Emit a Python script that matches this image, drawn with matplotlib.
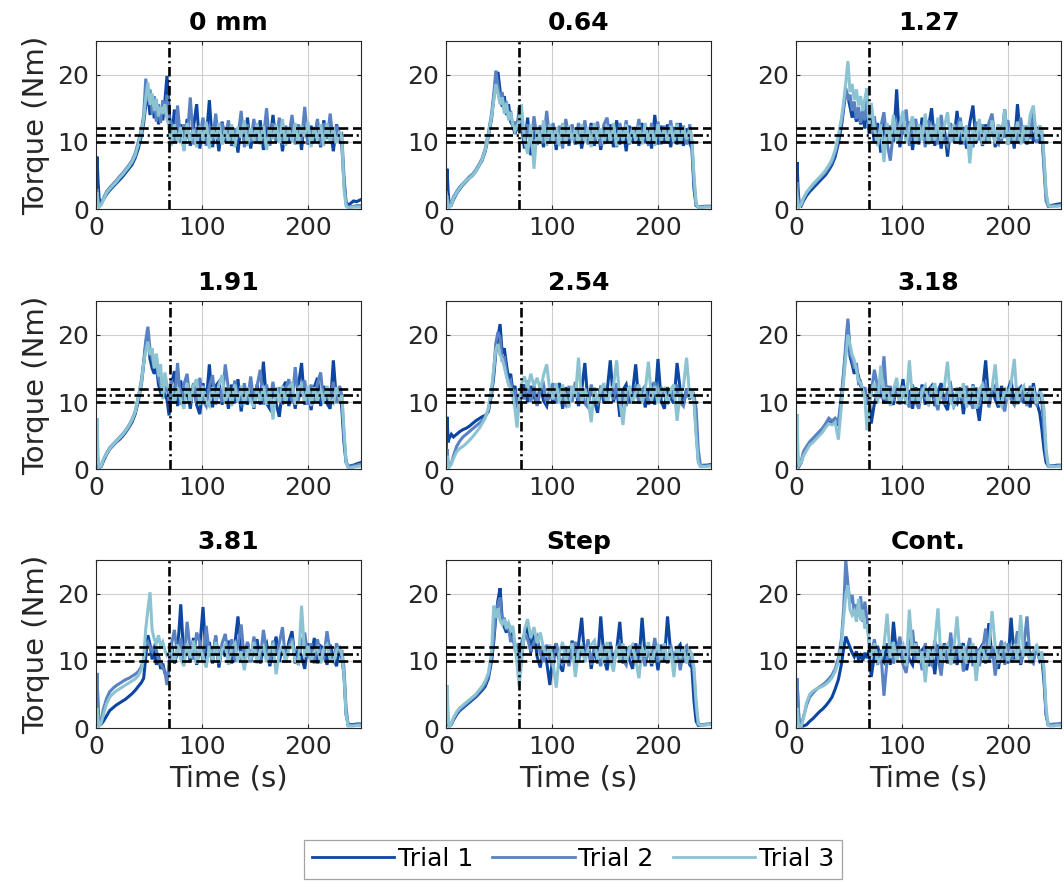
import numpy as np
import matplotlib
matplotlib.use("Agg")
import matplotlib.pyplot as plt
from matplotlib.lines import Line2D

# Sample times (s), shared by every trial
TIME = [
    0, 1, 2, 3, 5, 7,
    10, 13, 16, 19, 22, 25, 28, 31, 34, 37, 40, 43,
    45, 47, 49, 51, 53, 55, 57, 59, 61, 63, 65, 67, 69,
    71, 74, 77, 80, 83, 86, 89, 92, 95,
    98, 101, 104, 107, 110, 113, 116, 119, 122,
    125, 128, 131, 134, 137, 140, 143, 146, 149,
    152, 155, 158, 161, 164, 167, 170, 173, 176,
    179, 182, 185, 188, 191, 194, 197, 200, 203,
    206, 209, 212, 215, 218, 221, 224, 227, 230,
    232, 234, 236, 238, 240, 243, 246, 250,
]

TITLES = ["0 mm", "0.64", "1.27", "1.91", "2.54", "3.18", "3.81", "Step", "Cont."]
ONSET = [68.5, 69.0, 69.0, 69.4, 71.0, 69.0, 68.5, 69.0, 68.7]
BAND_HIGH = 12
BAND_MID = 11
BAND_LOW = 10
TRIAL_NAMES = ["Trial 1", "Trial 2", "Trial 3"]
TRIAL_COLORS = ["#0c46a0", "#5a82c3", "#8cc3d2"]

# ---- 0 mm ----
mm000_t1 = [
    1.5, 7.8, 4.0, 1.5, 0.9, 1.4,
    2.2, 2.8, 3.3, 3.8, 4.3, 4.8, 5.4, 6.0, 6.6, 7.6, 9.0, 11.0,
    12.8, 15.5, 17.0, 14.0, 16.5, 13.5, 15.8, 12.6, 14.8, 13.2, 16.0, 19.8, 15.0,
    9.6, 14.8, 10.2, 12.6, 8.8, 13.4, 9.4, 12.2, 15.6,
    9.0, 12.8, 10.4, 16.2, 9.2, 12.4, 8.6, 13.0, 10.0,
    12.6, 9.4, 11.8, 8.4, 12.8, 10.2, 13.6, 9.0, 12.2,
    10.6, 13.2, 8.8, 12.4, 9.6, 14.0, 10.0, 12.6, 8.6,
    12.0, 9.8, 13.4, 10.4, 12.2, 8.8, 13.8, 9.6, 12.4,
    10.0, 12.8, 9.2, 13.2, 10.6, 12.0, 8.6, 12.6, 10.4,
    9.5, 4.0, 1.0, 0.6, 0.8, 1.2, 1.1, 1.4,
]
mm000_t2 = [
    0.5, 3.0, 1.2, 0.6, 0.8, 1.6,
    2.6, 3.2, 3.7, 4.2, 4.8, 5.3, 5.9, 6.5, 7.2, 8.3, 10.0, 12.0,
    14.0, 19.4, 16.0, 17.8, 14.2, 16.8, 13.0, 15.6, 12.8, 16.2, 14.0, 17.0, 13.6,
    12.8, 10.0, 15.4, 9.8, 12.6, 10.4, 16.6, 9.6, 12.2,
    10.8, 13.6, 9.4, 12.4, 10.2, 14.2, 9.8, 12.8, 10.6,
    13.2, 9.6, 12.0, 10.8, 14.6, 9.2, 12.6, 10.0, 13.4,
    9.8, 12.2, 10.6, 15.0, 9.4, 12.8, 10.2, 13.6, 9.6,
    12.4, 10.8, 14.0, 9.6, 12.6, 10.2, 15.2, 9.8, 12.0,
    10.6, 13.4, 9.4, 12.8, 10.4, 14.2, 9.8, 12.4, 10.6,
    11.0, 5.0, 0.8, 0.3, 0.3, 0.4, 0.5, 0.5,
]
mm000_t3 = [
    2.0, 2.5, 0.8, 0.3, 0.6, 1.4,
    2.4, 3.0, 3.5, 4.0, 4.6, 5.1, 5.7, 6.3, 7.0, 8.0, 9.6, 11.5,
    13.5, 16.5, 18.8, 15.5, 17.2, 14.6, 16.4, 13.8, 15.2, 14.2, 15.6, 13.4, 12.2,
    9.4, 12.6, 10.0, 12.2, 8.6, 12.8, 9.8, 11.8, 9.2,
    12.4, 10.2, 13.0, 9.0, 12.2, 10.4, 12.8, 9.6, 11.8,
    10.0, 12.6, 9.2, 12.2, 10.6, 13.2, 9.4, 12.0, 10.2,
    12.8, 9.6, 12.4, 8.8, 12.0, 10.4, 12.6, 9.8, 13.4,
    9.4, 12.2, 10.0, 12.8, 9.6, 12.4, 10.8, 13.0, 9.2,
    12.2, 10.2, 12.6, 9.4, 12.8, 10.0, 12.0, 9.8, 11.6,
    10.5, 3.0, 0.4, 0.2, 0.2, 0.3, 0.3, 0.3,
]

# ---- 0.64 ----
mm064_t1 = [
    1.0, 6.0, 2.5, 0.8, 0.6, 1.4,
    2.3, 3.0, 3.6, 4.1, 4.6, 5.0, 5.6, 6.4, 7.2, 8.6, 10.8, 13.5,
    16.5, 19.0, 20.4, 17.6, 15.2, 16.8, 14.0, 15.6, 13.0, 12.4, 11.2, 12.0, 14.2,
    12.8, 9.0, 13.6, 8.0, 11.8, 9.6, 12.4, 9.2, 12.0,
    9.8, 12.6, 8.8, 12.2, 10.0, 13.0, 9.4, 12.4, 9.6,
    12.2, 9.0, 12.0, 10.2, 12.8, 9.4, 12.2, 8.8, 12.4,
    9.8, 12.6, 9.2, 13.2, 9.6, 12.0, 8.6, 12.4, 10.0,
    12.2, 9.4, 12.8, 9.8, 12.0, 9.0, 14.0, 9.6, 12.4,
    10.0, 12.6, 9.2, 12.2, 9.6, 12.8, 9.4, 12.0, 9.8,
    9.0, 3.0, 0.5, 0.3, 0.3, 0.4, 0.4, 0.4,
]
mm064_t2 = [
    0.4, 2.0, 1.0, 0.5, 0.8, 1.8,
    2.6, 3.3, 3.8, 4.3, 4.8, 5.2, 5.8, 6.6, 7.5, 9.0, 11.4, 14.2,
    17.0, 20.6, 18.4, 16.2, 17.4, 14.8, 16.0, 13.6, 14.6, 12.2, 13.0, 11.8, 15.2,
    13.4, 10.0, 12.6, 9.2, 13.8, 10.2, 12.4, 9.8, 14.6,
    10.0, 12.8, 9.6, 12.4, 9.0, 13.4, 10.4, 12.6, 9.8,
    12.8, 10.2, 13.2, 9.6, 12.4, 10.0, 13.0, 9.4, 12.6,
    13.6, 9.8, 12.4, 9.2, 12.8, 10.2, 13.2, 9.6, 12.2,
    10.4, 13.4, 9.8, 12.6, 9.4, 12.8, 10.0, 13.0, 9.6,
    12.4, 10.2, 13.2, 9.8, 12.8, 10.0, 12.4, 9.6, 12.6,
    10.0, 4.0, 0.6, 0.3, 0.3, 0.3, 0.4, 0.4,
]
mm064_t3 = [
    2.5, 1.5, 0.5, 0.2, 0.6, 1.6,
    2.4, 3.1, 3.7, 4.2, 4.6, 5.0, 5.6, 6.4, 7.3, 8.8, 11.0, 13.8,
    16.0, 18.6, 17.2, 15.6, 16.6, 14.2, 15.8, 13.2, 14.4, 12.6, 11.6, 12.4, 13.0,
    15.6, 10.4, 8.2, 12.6, 6.0, 12.2, 9.8, 13.2, 9.4,
    12.6, 10.0, 12.2, 9.4, 12.8, 9.8, 12.4, 10.2, 12.0,
    9.6, 12.6, 10.0, 12.2, 9.2, 12.8, 10.4, 12.0, 9.6,
    12.4, 10.0, 12.8, 9.4, 12.2, 10.2, 12.6, 9.8, 12.0,
    10.2, 12.4, 9.6, 12.8, 10.0, 12.2, 9.4, 12.6, 10.2,
    12.0, 9.8, 12.4, 10.0, 12.6, 9.6, 12.2, 10.4, 11.8,
    10.2, 5.0, 0.8, 0.2, 0.2, 0.3, 0.3, 0.3,
]

# ---- 1.27 ----
mm127_t1 = [
    2.0, 7.0, 3.0, 0.8, 0.5, 1.2,
    2.0, 2.6, 3.1, 3.6, 4.1, 4.6, 5.1, 5.8, 6.6, 7.8, 9.8, 12.4,
    15.0, 17.6, 16.8, 15.2, 13.6, 14.8, 13.0, 14.4, 12.6, 13.8, 12.0, 16.6, 11.2,
    14.0, 9.8, 12.8, 8.4, 13.2, 9.6, 12.4, 10.0, 17.8,
    9.2, 12.6, 10.4, 13.0, 8.8, 12.4, 9.6, 13.6, 10.0,
    12.2, 15.0, 9.4, 12.6, 9.0, 12.0, 7.8, 12.4, 10.2,
    14.6, 9.6, 12.2, 9.0, 12.8, 15.4, 9.8, 12.0, 9.4,
    12.6, 10.0, 13.4, 9.2, 12.4, 10.2, 14.8, 9.6, 12.0,
    9.0, 15.6, 10.2, 12.4, 9.6, 12.8, 10.0, 12.2, 9.8,
    11.0, 7.0, 2.0, 0.5, 0.5, 0.6, 0.7, 0.8,
]
mm127_t2 = [
    0.5, 4.0, 1.5, 0.6, 0.7, 1.5,
    2.4, 3.0, 3.5, 4.0, 4.5, 5.0, 5.5, 6.2, 7.0, 8.4, 10.4, 13.0,
    15.4, 18.0, 16.4, 17.0, 14.6, 16.0, 13.4, 15.2, 12.8, 14.6, 13.2, 15.8, 12.4,
    11.2, 13.8, 9.6, 12.2, 14.4, 9.8, 7.2, 11.8, 13.0,
    9.8, 12.6, 14.8, 9.4, 12.0, 13.4, 10.0, 12.4, 9.2,
    13.2, 10.0, 12.6, 9.6, 14.0, 10.2, 9.4, 12.8, 10.0,
    12.2, 13.6, 9.6, 12.4, 10.4, 9.2, 13.0, 10.2, 12.6,
    9.8, 12.8, 14.2, 10.0, 9.6, 12.4, 10.6, 13.2, 9.8,
    12.2, 10.0, 13.6, 9.8, 12.4, 10.4, 14.4, 9.8, 12.4,
    11.4, 6.0, 1.2, 0.4, 0.4, 0.5, 0.5, 0.6,
]
mm127_t3 = [
    3.0, 2.0, 0.6, 0.3, 0.7, 1.6,
    2.5, 3.1, 3.7, 4.2, 4.7, 5.2, 5.8, 6.5, 7.4, 8.8, 11.0, 13.6,
    16.0, 18.8, 22.0, 17.4, 18.6, 16.2, 17.8, 15.4, 16.8, 14.6, 16.4, 18.0, 12.6,
    15.8, 11.8, 9.4, 12.6, 7.0, 12.8, 9.8, 14.0, 10.2,
    12.4, 14.6, 9.8, 12.2, 13.8, 9.6, 12.6, 10.2, 14.2,
    9.6, 12.4, 10.2, 13.6, 9.8, 12.2, 14.4, 10.0, 12.6,
    9.8, 13.0, 10.2, 12.4, 6.8, 12.0, 10.2, 13.4, 9.6,
    12.2, 10.0, 13.2, 9.8, 12.6, 10.4, 14.8, 9.6, 12.2,
    10.2, 13.0, 9.6, 12.4, 10.0, 14.0, 15.4, 10.4, 12.2,
    12.0, 8.0, 2.5, 0.6, 0.4, 0.4, 0.4, 0.5,
]

# ---- 1.91 ----
mm191_t1 = [
    0.5, 2.5, 1.0, 0.3, 0.4, 1.2,
    2.2, 3.0, 3.5, 4.0, 4.4, 4.9, 5.5, 6.2, 7.0, 8.2, 10.2, 12.8,
    15.6, 18.6, 19.8, 16.4, 15.0, 14.2, 15.4, 12.6, 11.4, 12.0, 11.0, 10.4, 8.0,
    12.4, 14.6, 9.4, 13.2, 9.8, 12.0, 9.0, 12.6, 9.6,
    8.2, 12.8, 9.8, 15.6, 9.2, 12.4, 13.0, 9.6, 12.2,
    9.0, 12.6, 9.8, 13.4, 8.6, 12.0, 9.6, 12.4, 9.0,
    12.6, 9.6, 16.0, 9.8, 9.0, 12.4, 9.8, 7.8, 12.0,
    13.0, 9.4, 12.2, 9.0, 12.4, 15.8, 9.6, 12.0, 8.8,
    12.2, 13.6, 9.4, 12.4, 9.8, 9.0, 16.2, 10.0, 12.2,
    9.0, 4.0, 1.0, 0.4, 0.5, 0.6, 0.8, 1.0,
]
mm191_t2 = [
    0.3, 2.0, 0.8, 0.2, 0.5, 1.4,
    2.4, 3.2, 3.7, 4.2, 4.7, 5.2, 5.8, 6.5, 7.4, 8.6, 10.8, 13.4,
    16.0, 19.2, 21.2, 17.8, 16.4, 15.2, 16.8, 13.6, 12.4, 13.0, 11.8, 12.2, 10.2,
    13.4, 10.0, 15.8, 9.6, 12.6, 14.2, 9.8, 12.8, 9.8,
    13.6, 10.2, 9.4, 12.4, 14.0, 9.6, 12.2, 10.0, 15.6,
    12.0, 9.6, 13.2, 10.2, 9.6, 12.8, 10.0, 13.8, 9.8,
    12.4, 14.8, 9.6, 12.6, 10.0, 13.0, 9.8, 12.2, 9.6,
    12.0, 13.4, 9.8, 15.2, 10.2, 12.4, 13.2, 9.6, 12.6,
    10.0, 12.8, 14.4, 9.8, 12.2, 10.0, 13.0, 9.8, 12.4,
    11.0, 5.0, 1.2, 0.3, 0.4, 0.5, 0.6, 0.8,
]
mm191_t3 = [
    1.0, 7.6, 2.0, 0.3, 0.5, 1.5,
    2.3, 3.1, 3.6, 4.1, 4.6, 5.1, 5.7, 6.4, 7.3, 8.5, 10.6, 13.0,
    15.8, 17.6, 19.0, 17.0, 18.0, 15.0, 17.2, 13.8, 15.6, 10.4, 14.4, 12.6, 11.8,
    12.6, 9.8, 12.2, 10.4, 9.0, 12.8, 9.8, 12.4, 13.4,
    9.6, 12.4, 10.0, 9.4, 12.2, 10.2, 12.6, 14.0, 9.8,
    12.0, 9.4, 12.6, 10.0, 12.4, 9.6, 12.2, 10.2, 9.2,
    12.0, 10.0, 12.4, 9.6, 12.0, 7.4, 12.2, 10.0, 12.4,
    9.8, 12.2, 12.8, 9.6, 12.0, 12.6, 9.8, 12.4, 9.4,
    12.2, 10.0, 12.0, 9.8, 12.4, 10.2, 9.8, 12.2, 10.4,
    11.0, 6.0, 1.0, 0.2, 0.2, 0.3, 0.4, 0.5,
]

# ---- 2.54 ----
mm254_t1 = [
    1.5, 7.8, 4.0, 4.6, 5.2, 4.8,
    5.2, 5.6, 5.9, 6.1, 6.4, 6.8, 7.2, 7.5, 7.8, 8.0, 8.6, 11.2,
    13.8, 17.4, 19.6, 21.6, 17.2, 18.0, 15.6, 13.4, 14.2, 11.6, 12.4, 10.0, 8.6,
    11.4, 12.6, 10.0, 12.4, 10.8, 9.6, 12.6, 10.2, 9.4,
    12.0, 9.8, 11.8, 12.8, 9.0, 12.2, 10.0, 11.8, 12.4,
    9.4, 11.8, 15.8, 9.8, 12.0, 10.2, 8.4, 12.4, 9.8,
    11.6, 16.2, 10.0, 12.2, 7.8, 11.8, 12.6, 9.8, 11.4,
    15.6, 9.8, 12.0, 9.2, 11.6, 12.4, 9.6, 16.4, 10.2,
    9.0, 12.2, 10.6, 9.8, 15.8, 11.8, 9.6, 12.0, 10.4,
    11.6, 10.8, 6.0, 1.5, 0.5, 0.6, 0.6, 0.7,
]
mm254_t2 = [
    0.5, 3.0, 1.0, 0.4, 0.8, 2.0,
    3.4, 4.2, 4.8, 5.2, 5.6, 6.0, 6.4, 6.8, 7.2, 7.8, 8.8, 11.6,
    14.6, 18.8, 20.4, 19.6, 16.0, 16.8, 14.4, 12.8, 13.2, 11.2, 11.8, 9.4, 9.8,
    12.0, 10.4, 13.2, 10.0, 12.4, 9.4, 11.8, 12.6, 9.8,
    11.6, 12.8, 9.8, 12.0, 10.4, 9.6, 12.4, 10.0, 13.0,
    10.2, 12.2, 9.8, 9.2, 12.6, 10.4, 9.8, 12.4, 10.8,
    9.8, 12.0, 10.4, 12.8, 9.6, 11.6, 9.4, 12.2, 10.2,
    12.6, 9.8, 11.8, 12.4, 9.6, 10.8, 13.0, 10.0, 12.2,
    11.0, 9.8, 12.0, 10.4, 12.6, 10.0, 9.4, 11.8, 10.6,
    11.8, 11.0, 9.0, 3.0, 0.6, 0.5, 0.5, 0.6,
]
mm254_t3 = [
    0.8, 2.0, 0.6, 0.3, 0.8, 1.6,
    2.6, 3.1, 3.4, 3.8, 4.3, 4.8, 5.4, 6.0, 6.8, 7.6, 9.2, 12.0,
    15.0, 17.8, 18.6, 17.0, 16.4, 15.2, 13.8, 12.6, 12.0, 10.8, 9.0, 6.2, 10.4,
    12.6, 13.8, 12.0, 14.2, 12.4, 13.6, 11.8, 14.0, 15.6,
    11.6, 10.4, 12.8, 9.8, 12.6, 10.4, 9.2, 12.4, 10.6,
    16.6, 10.0, 12.0, 10.6, 7.0, 12.2, 9.8, 11.8, 12.8,
    9.8, 11.6, 12.4, 16.2, 10.2, 6.6, 11.8, 12.2, 9.8,
    11.4, 12.6, 9.8, 11.8, 16.0, 10.2, 12.4, 9.8, 11.6,
    12.0, 9.6, 11.8, 12.6, 7.2, 11.4, 12.2, 16.6, 10.6,
    11.8, 10.0, 5.0, 1.0, 0.4, 0.4, 0.4, 0.5,
]

# ---- 3.18 ----
mm318_t1 = [
    0.5, 3.0, 1.2, 0.5, 1.0, 2.2,
    3.0, 3.8, 4.3, 4.8, 5.3, 5.8, 6.4, 7.0, 6.8, 7.2, 6.6, 10.6,
    14.0, 17.6, 21.8, 16.8, 15.6, 14.2, 15.0, 13.8, 12.4, 12.0, 11.4, 9.6, 10.8,
    6.8, 9.8, 11.4, 12.4, 9.8, 12.4, 10.6, 9.6, 12.8,
    10.2, 13.4, 9.6, 11.8, 9.0, 12.2, 10.0, 12.6, 9.6,
    11.8, 12.4, 9.4, 11.6, 12.8, 9.8, 8.8, 12.0, 10.4,
    9.8, 12.2, 8.2, 11.8, 9.6, 12.6, 10.2, 7.2, 11.6,
    16.2, 9.8, 12.0, 10.4, 9.2, 12.4, 9.8, 11.8, 13.2,
    9.6, 11.6, 12.2, 9.8, 11.4, 9.2, 12.8, 10.0, 8.4,
    6.0, 3.0, 1.0, 0.5, 0.5, 0.5, 0.6, 0.6,
]
mm318_t2 = [
    0.4, 2.5, 1.0, 0.4, 1.2, 2.6,
    3.4, 4.1, 4.6, 5.1, 5.6, 6.1, 6.8, 7.6, 7.2, 7.6, 7.0, 11.2,
    14.6, 18.6, 22.4, 17.2, 16.4, 15.0, 15.8, 12.8, 13.0, 11.6, 12.2, 10.4, 9.8,
    11.4, 14.8, 12.2, 10.6, 16.8, 9.8, 12.4, 10.2, 13.0,
    9.6, 12.0, 10.4, 9.2, 12.6, 10.0, 9.0, 12.2, 10.6,
    9.8, 12.4, 10.2, 8.8, 12.0, 9.6, 11.8, 12.6, 9.4,
    10.2, 12.0, 9.8, 12.4, 10.4, 9.0, 12.2, 9.6, 11.8,
    12.6, 9.2, 11.6, 12.4, 9.8, 10.2, 8.6, 12.0, 10.4,
    9.6, 12.2, 10.0, 11.8, 9.4, 12.4, 10.2, 9.6, 11.8,
    10.0, 6.0, 2.0, 0.5, 0.4, 0.4, 0.5, 0.5,
]
mm318_t3 = [
    1.5, 8.2, 2.0, 0.6, 1.0, 2.0,
    2.8, 3.6, 4.0, 4.5, 5.0, 5.5, 6.2, 6.8, 6.6, 7.0, 4.4, 9.8,
    13.2, 16.8, 20.0, 18.6, 17.0, 16.2, 14.8, 13.2, 12.8, 11.8, 10.6, 5.8, 9.2,
    11.6, 12.8, 9.8, 15.4, 10.4, 12.2, 9.4, 11.8, 13.6,
    10.0, 12.4, 9.6, 16.2, 10.2, 12.0, 9.8, 11.6, 12.4,
    9.4, 11.8, 12.8, 9.6, 11.4, 12.2, 16.0, 10.0, 9.4,
    12.2, 10.6, 12.8, 9.2, 11.4, 12.4, 9.0, 11.8, 12.6,
    9.8, 11.6, 12.0, 15.6, 10.2, 9.4, 12.2, 10.4, 12.8,
    16.4, 9.6, 11.8, 12.4, 10.0, 11.6, 12.0, 9.8, 11.4,
    11.2, 9.0, 3.0, 0.6, 0.4, 0.4, 0.4, 0.5,
]

# ---- 3.81 ----
mm381_t1 = [
    1.0, 7.4, 3.0, 0.5, 0.6, 1.0,
    1.8, 2.6, 3.0, 3.4, 3.7, 4.0, 4.3, 4.7, 5.1, 5.6, 6.2, 6.8,
    7.4, 10.6, 13.8, 12.4, 10.2, 11.6, 9.4, 10.8, 8.8, 9.6, 8.2, 7.4, 8.8,
    12.8, 9.6, 11.4, 18.4, 10.2, 12.6, 9.8, 13.4, 9.4,
    12.0, 18.0, 10.2, 12.8, 9.6, 13.6, 9.0, 12.2, 10.6,
    13.0, 9.6, 12.4, 16.6, 10.4, 9.4, 12.8, 9.8, 12.0,
    13.2, 9.6, 11.8, 12.6, 9.2, 11.4, 13.6, 9.8, 12.2,
    10.0, 12.8, 14.4, 9.6, 12.0, 10.6, 8.8, 12.6, 10.2,
    13.4, 9.6, 12.2, 11.8, 9.4, 12.4, 10.4, 9.2, 12.0,
    10.4, 8.0, 2.0, 0.5, 0.5, 0.5, 0.6, 0.6,
]
mm381_t2 = [
    0.5, 8.2, 2.5, 0.4, 1.2, 2.8,
    4.4, 5.4, 5.9, 6.3, 6.6, 6.9, 7.2, 7.4, 7.7, 8.0, 8.4, 9.2,
    10.2, 12.4, 12.8, 12.0, 11.4, 12.2, 11.6, 10.2, 9.6, 9.0, 8.4, 6.4, 9.8,
    12.2, 14.6, 10.8, 13.4, 9.8, 15.8, 11.4, 10.2, 14.2,
    12.8, 9.8, 15.2, 11.0, 10.4, 13.8, 9.6, 12.6, 14.0,
    10.6, 13.2, 9.8, 12.4, 15.4, 10.2, 12.8, 9.8, 13.6,
    11.2, 10.0, 14.6, 11.4, 9.6, 13.0, 10.8, 12.6, 15.0,
    9.8, 12.2, 13.4, 10.6, 9.4, 12.8, 14.2, 10.4, 12.6,
    9.6, 13.2, 11.0, 10.4, 14.4, 11.2, 9.8, 12.6, 10.8,
    11.6, 9.0, 3.0, 0.4, 0.4, 0.4, 0.5, 0.5,
]
mm381_t3 = [
    0.8, 3.0, 1.0, 0.3, 0.8, 2.0,
    3.6, 4.6, 5.1, 5.5, 5.8, 6.1, 6.4, 6.7, 7.0, 7.3, 7.8, 8.8,
    10.4, 14.8, 17.6, 20.2, 14.6, 13.2, 12.6, 13.8, 12.2, 12.8, 11.6, 10.8, 11.2,
    11.8, 9.8, 12.4, 10.2, 9.2, 12.6, 10.4, 13.0, 9.6,
    12.0, 10.6, 9.0, 12.2, 10.0, 12.8, 9.8, 11.6, 12.4,
    9.4, 11.8, 12.6, 9.8, 11.4, 8.6, 12.0, 10.2, 12.8,
    9.6, 11.6, 12.2, 9.8, 11.8, 12.4, 8.0, 11.4, 12.0,
    9.8, 11.8, 12.6, 10.0, 9.6, 18.2, 10.6, 12.2, 9.8,
    11.4, 12.0, 9.6, 11.8, 12.4, 10.2, 9.8, 11.6, 12.0,
    11.0, 8.0, 2.0, 0.3, 0.3, 0.3, 0.4, 0.4,
]

# ---- Step ----
step_t1 = [
    1.0, 3.0, 0.8, 0.3, 0.5, 1.2,
    2.0, 2.6, 3.0, 3.4, 3.8, 4.2, 4.6, 5.1, 5.6, 6.2, 7.4, 10.0,
    12.8, 16.6, 19.0, 20.8, 16.2, 15.0, 14.2, 15.6, 13.4, 14.0, 12.4, 11.6, 8.4,
    10.4, 13.8, 15.2, 11.2, 14.4, 10.6, 9.0, 12.2, 9.8,
    6.4, 11.4, 12.6, 9.4, 8.4, 12.0, 10.2, 13.0, 9.6,
    12.4, 16.4, 10.0, 12.8, 8.8, 11.8, 9.6, 16.6, 10.4,
    8.6, 12.2, 9.8, 11.6, 15.8, 9.6, 12.0, 10.2, 8.8,
    12.6, 9.8, 16.4, 10.4, 12.2, 9.2, 11.8, 8.6, 12.4,
    10.0, 16.6, 11.2, 9.6, 11.8, 12.4, 9.8, 11.6, 9.4,
    9.0, 4.0, 1.0, 0.4, 0.4, 0.5, 0.5, 0.6,
]
step_t2 = [
    0.5, 2.0, 0.6, 0.3, 0.6, 1.4,
    2.2, 2.8, 3.2, 3.6, 4.0, 4.4, 4.8, 5.4, 5.9, 6.6, 7.8, 10.6,
    13.4, 17.2, 18.4, 19.4, 15.6, 16.4, 14.6, 15.2, 12.8, 13.6, 11.8, 12.2, 9.6,
    12.6, 14.0, 13.2, 11.4, 12.8, 13.6, 11.0, 9.8, 12.4,
    10.2, 9.0, 12.6, 10.4, 9.6, 12.2, 9.2, 11.8, 12.8,
    9.8, 12.0, 10.4, 13.2, 9.4, 12.2, 10.6, 9.2, 12.4,
    10.0, 12.8, 9.6, 11.8, 12.6, 10.2, 9.4, 12.2, 10.4,
    9.8, 12.4, 10.6, 9.2, 12.0, 10.4, 13.4, 9.8, 12.2,
    10.8, 9.6, 12.4, 10.0, 12.0, 8.6, 11.6, 12.2, 10.0,
    10.6, 8.0, 3.0, 0.6, 0.5, 0.5, 0.6, 0.6,
]
step_t3 = [
    0.8, 6.4, 2.0, 0.3, 0.6, 1.5,
    2.4, 3.0, 3.4, 3.8, 4.2, 4.6, 5.0, 5.6, 6.2, 7.0, 8.2, 11.4,
    18.2, 16.4, 17.8, 16.0, 15.4, 16.2, 14.8, 15.6, 14.6, 15.2, 12.6, 9.6, 6.2,
    9.4, 14.6, 16.2, 13.4, 15.0, 12.6, 14.2, 11.8, 10.6,
    12.4, 9.6, 6.0, 11.2, 12.8, 9.6, 11.8, 12.6, 7.6,
    11.4, 12.2, 9.8, 11.6, 12.4, 13.0, 10.2, 12.0, 9.6,
    12.8, 10.4, 8.4, 12.2, 10.0, 12.6, 9.8, 11.8, 12.4,
    10.2, 7.4, 12.0, 10.6, 12.8, 9.6, 11.4, 12.2, 10.0,
    12.6, 9.8, 11.8, 7.6, 12.2, 10.4, 12.0, 9.6, 11.6,
    11.0, 9.0, 4.0, 0.6, 0.4, 0.4, 0.5, 0.5,
]

# ---- Cont. ----
cont_t1 = [
    1.0, 7.2, 3.0, 0.6, 0.3, 0.3,
    0.5, 1.0, 1.4, 1.9, 2.4, 2.8, 3.3, 3.9, 4.6, 5.8, 7.2, 9.6,
    11.8, 13.6, 12.8, 12.0, 11.2, 10.6, 11.4, 10.2, 10.8, 10.0, 11.2, 10.4, 11.6,
    7.6, 10.8, 12.2, 10.4, 9.8, 12.6, 9.4, 15.8, 10.8,
    12.4, 9.6, 12.0, 10.2, 9.4, 12.8, 9.8, 11.6, 12.2,
    9.2, 11.8, 8.0, 12.4, 10.0, 12.6, 9.6, 11.4, 12.0,
    9.4, 11.8, 12.6, 8.6, 11.2, 12.2, 9.8, 11.6, 12.4,
    9.6, 15.6, 10.4, 12.0, 8.8, 11.8, 12.4, 9.6, 16.4,
    10.2, 12.2, 9.4, 11.6, 12.8, 9.8, 11.4, 12.0, 10.0,
    10.4, 7.0, 2.0, 0.5, 0.5, 0.5, 0.5, 0.6,
]
cont_t2 = [
    0.6, 7.4, 4.0, 1.0, 0.5, 1.6,
    3.4, 4.6, 5.2, 5.7, 6.1, 6.4, 6.8, 7.3, 7.9, 8.8, 10.4, 13.4,
    17.8, 25.0, 21.4, 18.6, 19.8, 17.2, 18.4, 16.6, 19.6, 15.8, 18.8, 16.2, 12.4,
    10.8, 13.2, 9.4, 11.6, 4.8, 10.2, 12.8, 9.6, 11.4,
    13.6, 9.4, 8.2, 12.2, 14.6, 9.8, 11.8, 8.6, 12.6,
    10.0, 9.4, 13.0, 10.6, 7.8, 12.4, 9.6, 14.2, 9.6,
    11.8, 12.6, 8.4, 11.2, 13.4, 9.2, 12.0, 9.2, 11.6,
    14.8, 9.8, 12.2, 7.8, 11.4, 13.0, 9.4, 12.6, 9.8,
    11.8, 14.4, 9.6, 12.2, 16.6, 10.0, 9.6, 12.4, 10.2,
    11.0, 8.0, 2.0, 0.5, 0.5, 0.6, 0.6, 0.7,
]
cont_t3 = [
    2.0, 3.0, 1.0, 0.2, 0.3, 1.4,
    3.8, 5.0, 5.5, 5.8, 6.0, 6.2, 6.5, 6.9, 7.5, 8.4, 9.8, 12.8,
    16.4, 19.8, 21.2, 17.6, 16.8, 17.4, 15.8, 19.2, 16.0, 17.6, 14.8, 15.4, 13.2,
    10.6, 12.6, 9.8, 10.4, 12.2, 17.0, 10.4, 12.8, 9.8,
    11.6, 12.4, 9.2, 17.6, 10.8, 12.6, 9.6, 11.4, 6.8,
    12.0, 10.2, 12.8, 17.8, 9.8, 11.6, 12.4, 9.4, 11.8,
    16.6, 10.2, 12.2, 9.6, 11.8, 12.6, 7.0, 11.4, 12.0,
    9.8, 11.6, 17.4, 12.2, 9.6, 11.8, 12.4, 10.0, 11.6,
    12.2, 9.8, 16.8, 10.6, 12.0, 9.6, 11.4, 12.2, 10.2,
    11.4, 9.0, 3.0, 0.4, 0.3, 0.3, 0.4, 0.4,
]

PANELS = [
    (mm000_t1, mm000_t2, mm000_t3),
    (mm064_t1, mm064_t2, mm064_t3),
    (mm127_t1, mm127_t2, mm127_t3),
    (mm191_t1, mm191_t2, mm191_t3),
    (mm254_t1, mm254_t2, mm254_t3),
    (mm318_t1, mm318_t2, mm318_t3),
    (mm381_t1, mm381_t2, mm381_t3),
    (step_t1, step_t2, step_t3),
    (cont_t1, cont_t2, cont_t3),
]

plt.rcParams["font.family"] = ["DejaVu Sans"]
AX_COLOR = "#262626"

fig = plt.figure(figsize=(10.64, 8.82), dpi=100)

col_left = [0.0902, 0.4192, 0.7481]
row_bottom = [0.763, 0.468, 0.1746]
ax_w, ax_h = 0.249, 0.1905

t = np.asarray(TIME, dtype=float)

for k, (title, onset, trials) in enumerate(zip(TITLES, ONSET, PANELS)):
    r, c = divmod(k, 3)
    ax = fig.add_axes([col_left[c], row_bottom[r], ax_w, ax_h])

    for vals, color in zip(trials, TRIAL_COLORS):
        y = np.asarray(vals, dtype=float)
        assert len(y) == len(t)
        ax.plot(t, y, color=color, lw=2.2, solid_joinstyle="miter", zorder=2)

    # Target band and onset marker
    for level, dash in ((BAND_HIGH, (3.6, 1.8)), (BAND_LOW, (3.6, 1.8)),
                        (BAND_MID, (3.6, 1.4, 0.8, 1.4))):
        ax.axhline(level, color="black", lw=1.9, dashes=dash, zorder=3)
    ax.axvline(onset, color="black", lw=1.9, dashes=(3.6, 1.4, 0.8, 1.4), zorder=3)

    ax.set_xlim(0, 250)
    ax.set_ylim(0, 25)
    ax.set_xticks([0, 100, 200])
    ax.set_yticks([0, 10, 20])
    ax.grid(True, color="#cfcfcf", lw=0.8, zorder=0)
    ax.set_axisbelow(True)
    ax.tick_params(direction="in", length=3, width=0.8, colors=AX_COLOR,
                   labelsize=18, top=True, right=True, pad=5)
    for sp in ax.spines.values():
        sp.set_color(AX_COLOR)
        sp.set_linewidth(0.8)
    ax.set_title(title, fontsize=18, fontweight="bold", pad=8)

    if c == 0:
        ax.set_ylabel("Torque (Nm)", fontsize=21, color=AX_COLOR, labelpad=5)
    if r == 2:
        ax.set_xlabel("Time (s)", fontsize=21, color=AX_COLOR, labelpad=4)

handles = [Line2D([], [], color=col, lw=2.0) for col in TRIAL_COLORS]
leg = fig.legend(handles, TRIAL_NAMES, loc="center", ncol=3,
                 bbox_to_anchor=(0.5385, 0.026), fontsize=18,
                 handlelength=3.3, handletextpad=0.15, columnspacing=0.75,
                 frameon=True, fancybox=False, borderpad=0.3)
leg.get_frame().set_edgecolor("#8c8c8c")
leg.get_frame().set_linewidth(0.9)

fig.savefig("out.png", dpi=100)
